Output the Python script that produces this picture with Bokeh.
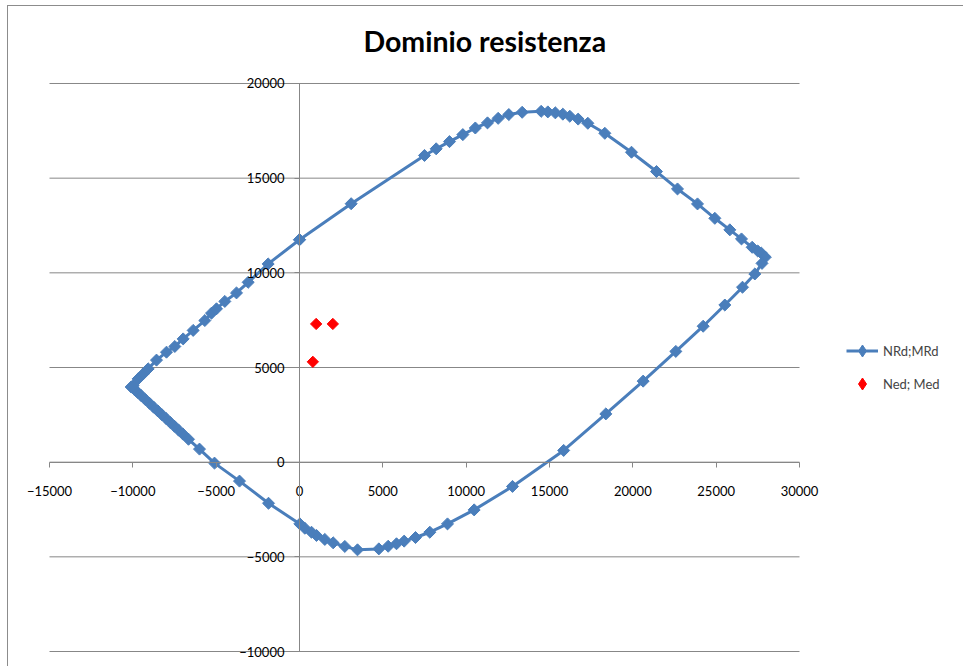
import math
from bokeh.plotting import figure
from bokeh.models import (Range1d, SingleIntervalTicker, Legend, LegendItem, Title)
from bokeh.embed import file_html
from bokeh.resources import INLINE

# Domain of resistance (NRd; MRd) - closed loop
NRd = [0, 3100, 7500, 8200, 9000, 9800, 10550, 11280, 11920, 12560, 13360,
       14500, 14900, 15350, 15800, 16220, 16720, 17300, 18320, 19920, 21420,
       22680, 23880, 24920, 25820, 26520, 27160, 27500, 27700, 27950, 27750,
       27320, 26580, 25520, 24220, 22580, 20620, 18380, 15850, 12780, 10480,
       8880, 7820, 6960, 6280, 5820, 5320, 4760, 3480, 2720, 2020, 1520, 1020,
       720, 320, 20, -1860, -3600, -5100, -6000, -6660, -7000, -7250, -7500,
       -7750, -8000, -8250, -8500, -8750, -9000, -9250, -9500, -9700, -9850,
       -9950, -10100, -9980, -9680, -9380, -9080, -8580, -7980, -7480, -6980,
       -6380, -5680, -5280, -4980, -4480, -3780, -3080, -1880, 0]
MRd = [11750, 13650, 16200, 16550, 16930, 17300, 17650, 17920, 18160, 18360,
       18480, 18530, 18500, 18450, 18380, 18270, 18120, 17900, 17370, 16370,
       15350, 14430, 13640, 12880, 12270, 11790, 11350, 11150, 11050, 10830,
       10500, 9940, 9240, 8300, 7180, 5850, 4280, 2550, 620, -1280, -2520,
       -3260, -3700, -3980, -4170, -4310, -4440, -4580, -4630, -4450, -4260,
       -4080, -3870, -3700, -3490, -3260, -2170, -1000, -50, 690, 1210, 1490,
       1690, 1895, 2095, 2300, 2500, 2705, 2905, 3110, 3310, 3515, 3675, 3800,
       3880, 3970, 4050, 4400, 4660, 4930, 5390, 5810, 6110, 6510, 6960, 7480,
       7870, 8100, 8490, 8940, 9500, 10470, 11750]

# Design actions (Ned; Med)
Ned = [1000, 2000, 800]
Med = [7300, 7300, 5300]

# Axis limits and tick values
X_MIN, X_MAX = -15000, 30000
Y_MIN, Y_MAX = -10000, 20000
Y_TICKS = [-10000, -5000, 0, 5000, 10000, 15000, 20000]

TITLE = "Dominio resistenza"
SERIES1 = "NRd;MRd"
SERIES2 = "Ned; Med"

BLUE = "#4A7EBB"
RED = "#FF0000"
GRID = "#878787"
FONT = "Lato"

# scale: 60 units/px on x, ~52.8 units/px on y; pad so edge labels aren't clipped
XPAD = 25 * 60
YPAD = 12 * 52.8

p = figure(frame_width=800, frame_height=592, output_backend="svg",
           toolbar_location=None,
           x_range=Range1d(X_MIN - XPAD, X_MAX + XPAD),
           y_range=Range1d(Y_MIN - YPAD, Y_MAX + YPAD),
           min_border_left=16, min_border_right=134, min_border_top=65,
           min_border_bottom=4, outline_line_color=None,
           background_fill_color="white", border_fill_color="white")
p.styles = {"border": "1px solid #8c8c8c", "margin-left": "7px",
            "margin-top": "5px"}

p.title = Title(text=TITLE, align="left", offset=339, text_font=FONT,
                text_font_size="28.5px", text_font_style="bold",
                text_color="black", standoff=28)

# horizontal gridlines limited to the plot area
p.segment(x0=[X_MIN] * len(Y_TICKS), x1=[X_MAX] * len(Y_TICKS),
          y0=Y_TICKS, y1=Y_TICKS, line_color=GRID, line_width=1)

for ax in (p.xaxis[0], p.yaxis[0]):
    ax.fixed_location = 0
    ax.ticker = SingleIntervalTicker(interval=5000, num_minor_ticks=0)
    ax.axis_line_color = GRID
    ax.major_tick_line_color = GRID
    ax.major_tick_out = 5
    ax.major_tick_in = 0
    ax.minor_tick_line_color = None
    ax.major_label_text_font = FONT
    ax.major_label_text_font_size = "13px"
    ax.major_label_text_color = "black"
p.xaxis[0].bounds = (X_MIN, X_MAX)
p.yaxis[0].bounds = (Y_MIN, Y_MAX)
p.xaxis[0].major_label_standoff = 19
p.yaxis[0].major_label_standoff = 10

p.xgrid.grid_line_color = None
p.ygrid.grid_line_color = None

ROT = math.pi / 4
l1 = p.line(NRd, MRd, line_color=BLUE, line_width=3)
m1 = p.scatter(NRd, MRd, marker="square", angle=ROT, size=8.5,
               fill_color=BLUE, line_color=BLUE)
m2 = p.scatter(Ned, Med, marker="square", angle=ROT, size=8,
               fill_color=RED, line_color=RED)

# legend-only diamond glyphs (a single non-drawable NaN point each)
NAN = [float("nan")]
k1 = p.scatter(x=NAN, y=NAN, marker="diamond", size=15, fill_color=BLUE,
               line_color=BLUE)
k2 = p.scatter(x=NAN, y=NAN, marker="diamond", size=14, fill_color=RED,
               line_color=RED)

legend = Legend(items=[LegendItem(label=SERIES1, renderers=[l1, k1]),
                       LegendItem(label=SERIES2, renderers=[k2])],
                location="center_left", border_line_color=None,
                background_fill_alpha=0, label_text_font=FONT,
                label_text_font_size="13px", glyph_width=32, glyph_height=30,
                label_height=20, label_standoff=5, spacing=3, padding=0,
                margin=22)
p.add_layout(legend, "right")

open("out.html", "w").write(file_html(p, INLINE))
